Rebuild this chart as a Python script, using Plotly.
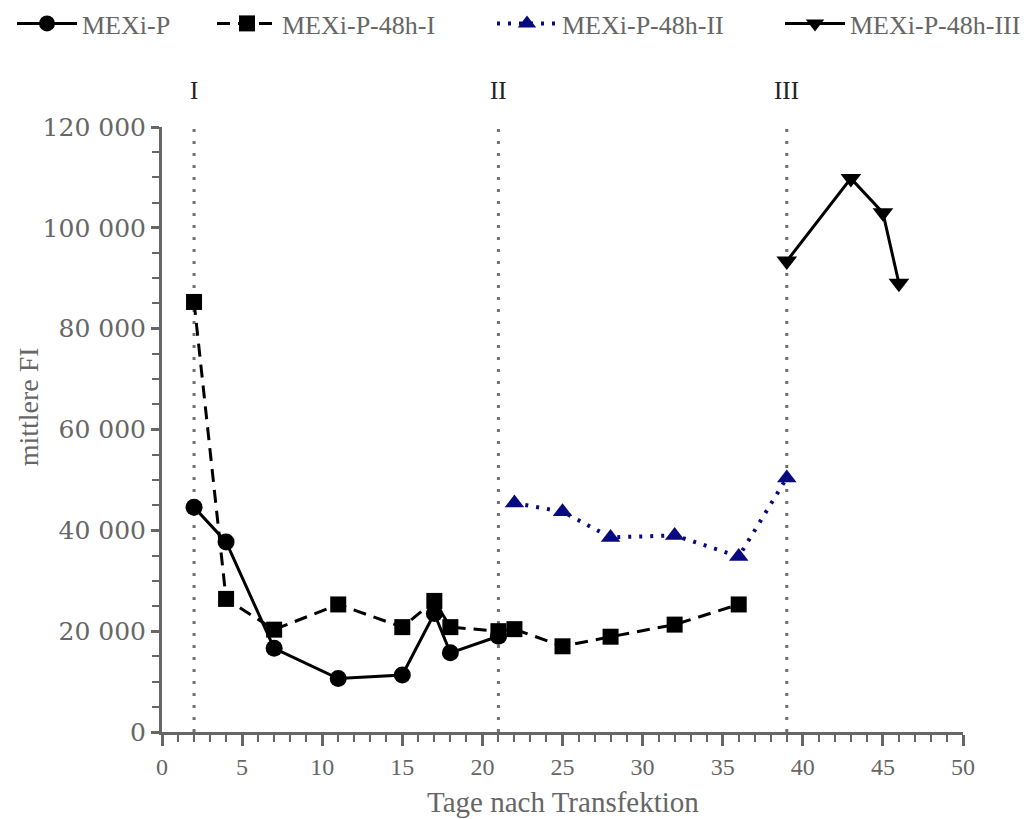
import plotly.graph_objects as go

# Data
x_p = [2, 4, 7, 11, 15, 17, 18, 21]
y_p = [44600, 37700, 16600, 10600, 11300, 23500, 15700, 19000]

x_i = [2, 4, 7, 11, 15, 17, 18, 21, 22, 25, 28, 32, 36]
y_i = [85300, 26400, 20300, 25300, 20800, 26000, 20800, 20000, 20400, 17000, 18900, 21300, 25300]

x_ii = [22, 25, 28, 32, 36, 39]
y_ii = [45400, 43700, 38600, 39000, 34800, 50400]

x_iii = [39, 43, 45, 46]
y_iii = [93400, 109800, 103000, 89000]

phase_x = [2, 21, 39]
phase_labels = ["I", "II", "III"]

y_ticks = [0, 20000, 40000, 60000, 80000, 100000, 120000]
x_ticks = [0, 5, 10, 15, 20, 25, 30, 35, 40, 45, 50]

grey = "#666666"
serif = "Liberation Serif"
navy = "#0a0a80"

fig = go.Figure()

# vertical phase lines
for px in phase_x:
    fig.add_shape(type="line", x0=px, x1=px, y0=0, y1=1.01, yref="paper",
                  line=dict(color="#707070", width=3, dash="3px,9px"), layer="below")

fig.add_trace(go.Scatter(x=x_p, y=y_p, name="MEXi-P", mode="lines+markers", legend="legend",
                         line=dict(color="black", width=3),
                         marker=dict(symbol="circle", size=17, color="black")))
fig.add_trace(go.Scatter(x=x_i, y=y_i, name="MEXi-P-48h-I", mode="lines+markers", legend="legend2",
                         line=dict(color="black", width=3, dash="13px,8px"),
                         marker=dict(symbol="square", size=16, color="black")))
fig.add_trace(go.Scatter(x=x_ii, y=y_ii, name="MEXi-P-48h-II", mode="lines+markers", legend="legend3",
                         line=dict(color=navy, width=4, dash="3px,8px"),
                         marker=dict(symbol="triangle-up", size=17, color=navy)))
fig.add_trace(go.Scatter(x=x_iii, y=y_iii, name="MEXi-P-48h-III", mode="lines+markers", legend="legend4",
                         line=dict(color="black", width=3),
                         marker=dict(symbol="triangle-down", size=18, color="black")))

for px, lab in zip(phase_x, phase_labels):
    fig.add_annotation(x=px, y=1.06, yref="paper", yanchor="middle", text=lab, showarrow=False,
                       font=dict(family=serif, size=25, color="#222222"))

# axis titles placed as in the reference
fig.add_annotation(x=-0.167, xref="paper", y=0.537, yref="paper", text="mittlere FI",
                   textangle=-90, showarrow=False, xanchor="center", yanchor="middle",
                   font=dict(family=serif, size=28, color=grey))
fig.add_annotation(x=0.5, xref="paper", y=-0.1157, yref="paper", text="Tage nach Transfektion",
                   showarrow=False, xanchor="center", yanchor="middle",
                   font=dict(family=serif, size=29, color=grey))

legend_font = dict(family=serif, size=26, color=grey)
def leg(x):
    return dict(orientation="h", x=x, y=1.0, xref="container", yref="container",
                xanchor="left", yanchor="top", font=legend_font, itemwidth=60,
                bgcolor="rgba(0,0,0,0)")

fig.update_layout(
    width=1030, height=819,
    margin=dict(l=162, r=67, t=127, b=87),
    paper_bgcolor="white", plot_bgcolor="white",
    separators=". ",
    showlegend=True,
    legend=leg(12 / 1030),
    legend2=leg(212 / 1030),
    legend3=leg(492 / 1030),
    legend4=leg(780 / 1030),
    xaxis=dict(range=[0, 50], tickvals=x_ticks, showgrid=False, zeroline=False,
               showline=True, linecolor=grey, linewidth=3,
               ticks="outside", ticklen=11, tickwidth=3, tickcolor=grey,
               minor=dict(dtick=1, ticks="outside", ticklen=7, tickwidth=2, tickcolor=grey),
               tickfont=dict(family=serif, size=24, color=grey)),
    yaxis=dict(range=[0, 120000], tickvals=y_ticks, tickformat=",d", showgrid=False, zeroline=False,
               showline=True, linecolor=grey, linewidth=3,
               ticks="outside", ticklen=8, tickwidth=3, tickcolor=grey,
               minor=dict(dtick=5000, ticks="outside", ticklen=7, tickwidth=2, tickcolor=grey),
               tickfont=dict(family="DejaVu Serif", size=25, color=grey)),
)

fig.write_html("out.html")
